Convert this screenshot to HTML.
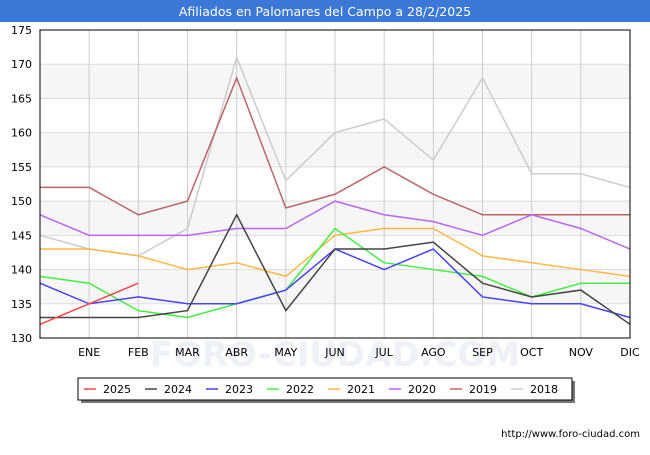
<!DOCTYPE html>
<html><head><meta charset="utf-8"><style>
body{margin:0;background:#fff;font-family:"Liberation Sans","DejaVu Sans",sans-serif}
svg text{font-family:"DejaVu Sans","Liberation Sans",sans-serif}
</style></head><body>
<svg id="c" width="650" height="450" xmlns="http://www.w3.org/2000/svg">
<rect x="0" y="0" width="650" height="22" fill="#3c78d8"/>
<text x="325" y="16" text-anchor="middle" fill="#fff" font-size="12.5">Afiliados en Palomares del Campo a 28/2/2025</text>
<g id="grid"></g>
<text x="335" y="366" text-anchor="middle" font-size="34" fill="#eef1f7" font-weight="bold">FORO-CIUDAD.COM</text>
<g id="labels"></g>
<g id="series"></g>
<rect x="40" y="30" width="590" height="308" fill="none" stroke="#000" stroke-width="1"/>
<g id="legend"></g>
<text x="640" y="437" text-anchor="end" font-size="10" fill="#000">http://www.foro-ciudad.com</text>
</svg>
<script>
const months=["","ENE","FEB","MAR","ABR","MAY","JUN","JUL","AGO","SEP","OCT","NOV","DIC"];
const yTicks=[130,135,140,145,150,155,160,165,170,175];
const seriesNames=["2025","2024","2023","2022","2021","2020","2019","2018"];
const seriesColors=["#ff4444","#444444","#4444ff","#44ee44","#ffb844","#bb66ee","#bb6666","#cccccc"];
const v2025=[132,135,138];
const v2024=[133,133,133,134,148,134,143,143,144,138,136,137,132];
const v2023=[138,135,136,135,135,137,143,140,143,136,135,135,133];
const v2022=[139,138,134,133,135,137,146,141,140,139,136,138,138];
const v2021=[143,143,142,140,141,139,145,146,146,142,141,140,139];
const v2020=[148,145,145,145,146,146,150,148,147,145,148,146,143];
const v2019=[152,152,148,150,168,149,151,155,151,148,148,148,148];
const v2018=[145,143,142,146,171,153,160,162,156,168,154,154,152];
const allVals=[v2025,v2024,v2023,v2022,v2021,v2020,v2019,v2018];
const NS="http://www.w3.org/2000/svg";
const L=40,R=630,T=30,B=338;
const x=i=>L+i*(R-L)/(months.length-1);
const y=v=>B-(v-130)*(B-T)/45;
function mk(t,a,p){const e=document.createElementNS(NS,t);for(const k in a)e.setAttribute(k,a[k]);p.appendChild(e);return e;}
const g=document.getElementById('grid');
const lb=document.getElementById('labels');
for(let i=0;i<yTicks.length-1;i++){
 if(i%2===1){const r=mk('rect',{x:L,y:y(yTicks[i+1]),width:R-L,height:y(yTicks[i])-y(yTicks[i+1]),fill:'#f6f6f6'},g);
 
 }
}
yTicks.forEach(t=>{
 const l=mk('line',{x1:L,x2:R,y1:y(t),y2:y(t),stroke:'#dddddd'},g);
 
 
 const tx=mk('text',{x:L-8,y:y(t)+4,'text-anchor':'end','font-size':11,fill:'#000'},lb);tx.textContent=t;
 
 
});
months.forEach((m,i)=>{
 const l=mk('line',{x1:x(i),x2:x(i),y1:T,y2:B,stroke:'#cccccc'},g);
 
 
 const tx=mk('text',{x:x(i),y:B+18,'text-anchor':'middle','font-size':11,fill:'#000'},lb);tx.textContent=m;
 
 
});
const s=document.getElementById('series');
for(let k=allVals.length-1;k>=0;k--){
 const pts=allVals[k].map((v,i)=>x(i)+','+y(v)).join(' ');
 const p=mk('polyline',{points:pts,fill:'none',stroke:seriesColors[k],'stroke-width':1.5},s);
 
 
}
const lg=document.getElementById('legend');
const sh=mk('rect',{x:81,y:381,width:494,height:22,fill:'#777'},lg);


const bx=mk('rect',{x:78,y:378,width:494,height:22,fill:'#fff',stroke:'#000'},lg);


seriesNames.forEach((n,i)=>{
 const lx=84+i*61;
 const l=mk('line',{x1:lx,x2:lx+12,y1:389,y2:389,stroke:seriesColors[i],'stroke-width':1.5},lg);
 
 
 const t=mk('text',{x:lx+19,y:393,'font-size':11,fill:'#000'},lg);t.textContent=n;
 
 
});
</script>
</body></html>
